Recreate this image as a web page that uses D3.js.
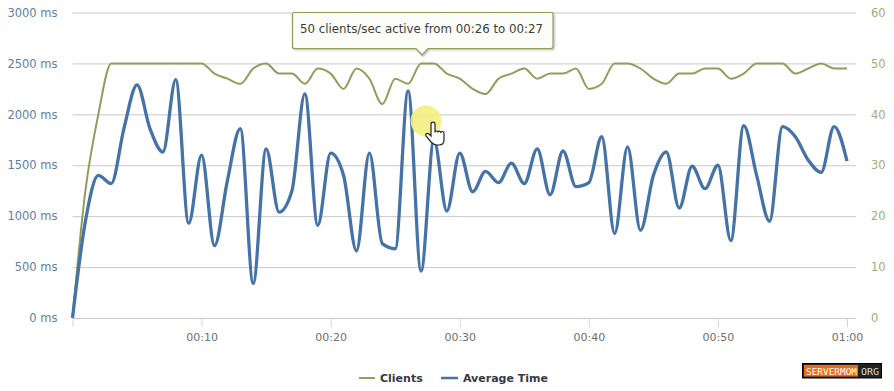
<!DOCTYPE html>
<html><head><meta charset="utf-8">
<script src="https://d3js.org/d3.v7.min.js"></script>
<style>
html,body{margin:0;padding:0;background:#fff;overflow:hidden}
text{font-family:"DejaVu Sans",sans-serif}
</style></head><body><svg id="c" width="894" height="391"></svg>
<script>
const seconds = d3.range(0, 61);
const clients = [0,25,40,50,50,50,50,50,50,50,50,48,47,46,49,50,48,48,46,49,48,45,49,47,42,47,46,50,50,48,47,45,44,47,48,49,47,48,48,49,45,46,50,50,49,47,46,48,48,49,49,47,48,50,50,50,48,49,50,49,49];
const averageTime = [0,950,1400,1320,1870,2290,1860,1630,2340,930,1600,710,1350,1860,340,1660,1040,1250,2200,910,1620,1400,660,1620,730,680,2230,460,1750,1050,1620,1240,1440,1330,1520,1320,1660,1210,1640,1290,1330,1780,830,1680,860,1400,1630,1080,1490,1270,1500,760,1890,1400,950,1880,1780,1550,1430,1880,1540];
const timeTicks = [10,20,30,40,50,60];
const timeLabels = ["00:10","00:20","00:30","00:40","00:50","01:00"];
const msTicks = [0,500,1000,1500,2000,2500,3000];
const clientTicks = [0,10,20,30,40,50,60];
const legendNames = ["Clients","Average Time"];
const tooltipText = "50 clients/sec active from 00:26 to 00:27";

const CLIENT="#8f9e5c", AVG="#4572a7", GRID="#c8c8c8";
const svg=d3.select("#c");
const L=72.5,R=847,T=12.5,B=318;
const x=d3.scaleLinear().domain([0,60]).range([L,R]);
const yMs=d3.scaleLinear().domain([0,3000]).range([B,T]);
const yC=d3.scaleLinear().domain([0,60]).range([B,T]);

// gridlines
svg.append("g").attr("transform",`translate(${L},0)`)
  .call(d3.axisLeft(yMs).tickValues(msTicks).tickSize(-(856-L)).tickFormat(""))
  .call(g=>{g.select(".domain").remove();g.selectAll("line").attr("stroke",GRID).attr("stroke-width",1)});

// left labels
svg.append("g").attr("transform",`translate(${L},0)`)
  .call(d3.axisLeft(yMs).tickValues(msTicks).tickSize(0).tickPadding(15).tickFormat(d=>d+" ms"))
  .call(g=>{g.select(".domain").remove();g.selectAll("line").remove();
    g.selectAll("text").attr("fill","#627da3").attr("font-size",11.5)});

// right labels
svg.append("g").attr("transform",`translate(871,0)`)
  .call(d3.axisRight(yC).tickValues(clientTicks).tickSize(0).tickPadding(0).tickFormat(d=>d))
  .call(g=>{g.select(".domain").remove();g.selectAll("line").remove();
    g.selectAll("text").attr("fill","#a3ac7a").attr("font-size",11.5)});

// x axis
svg.append("g").attr("transform",`translate(0,${B})`)
  .call(d3.axisBottom(x).tickValues([0,...timeTicks]).tickSize(9).tickPadding(6)
    .tickFormat(d=>{const i=timeTicks.indexOf(d);return i<0?"":timeLabels[i]}))
  .call(g=>{g.select(".domain").remove();
    g.selectAll("line").attr("stroke","#cfd6e2");
    g.selectAll("text").attr("fill","#6f6f6f").attr("font-size",11)});

const curve=d3.curveMonotoneX;
svg.append("path").datum(seconds).attr("fill","none").attr("stroke",CLIENT).attr("stroke-width",2)
  .attr("d",d3.line().x(d=>x(d)).y(d=>yC(clients[d])).curve(curve));
svg.append("path").datum(seconds).attr("fill","none").attr("stroke",AVG).attr("stroke-width",3.3)
  .attr("stroke-linejoin","round")
  .attr("d",d3.line().x(d=>x(d)).y(d=>yMs(averageTime[d])).curve(curve));

// legend
const legendX=[[359,375,380],[441,458,463]], legendColors=[CLIENT,AVG];
legendNames.forEach((n,i)=>{
  svg.append("line").attr("x1",legendX[i][0]).attr("x2",legendX[i][1]).attr("y1",378).attr("y2",378)
    .attr("stroke",legendColors[i]).attr("stroke-width",i?2.5:2);
  svg.append("text").attr("x",legendX[i][2]).attr("y",382).attr("fill","#333a45")
    .attr("font-size",11).attr("font-weight","bold").text(n);
});

// tooltip
const defs=svg.append("defs");
const f=defs.append("filter").attr("id","sh").attr("x","-5%").attr("y","-20%").attr("width","110%").attr("height","150%");
f.append("feDropShadow").attr("dx",1).attr("dy",1).attr("stdDeviation",1.2).attr("flood-color","#000").attr("flood-opacity",.3);
svg.append("path")
  .attr("d","M294.5 12.5H551a2 2 0 0 1 2 2V46.5a2 2 0 0 1-2 2H428L422 55L416 48.5H294.5a2 2 0 0 1-2-2V14.500a2 2 0 0 1 2-2Z")
  .attr("fill","#fcfcf8").attr("stroke",CLIENT).attr("stroke-width",1.2).attr("filter","url(#sh)");
svg.append("text").attr("x",300).attr("y",33).attr("fill","#3c3c3c").attr("font-size",11.8).text(tooltipText);

// cursor highlight & hand
svg.append("circle").attr("cx",426).attr("cy",121).attr("r",15.5).attr("fill","#f3ee7e").attr("opacity",.9);
svg.append("path")
  .attr("d","M431 124V136l-2-2c-2-1.500-4 0-3 2l5 6c2 2 3 3 6 3h2c3 0 5-2 5-5V133c0-2-3-2-3 0c0-2-3-3-3-.5c0-2-3-2-3 0V124c0-2.500-4-2.500-4 0Z")
  .attr("fill","#fff").attr("stroke","#222").attr("stroke-width",1.2);

// watermark
const wm=svg.append("g");
wm.append("rect").attr("x",802.5).attr("y",363.5).attr("width",79).attr("height",14.5).attr("fill","#222").attr("stroke","#000");
wm.append("rect").attr("x",804).attr("y",365).attr("width",54).attr("height",11.5).attr("fill","#f26a0c");
wm.append("text").attr("x",806).attr("y",374.5).attr("fill","#fff").attr("font-size",9.5).attr("textLength",51).attr("lengthAdjust","spacingAndGlyphs")
  .style("font-family","'DejaVu Sans Mono',monospace").text("SERVERMOM");
wm.append("text").attr("x",861).attr("y",374.5).attr("fill","#ddd").attr("font-size",9.5).attr("textLength",18).attr("lengthAdjust","spacingAndGlyphs")
  .style("font-family","'DejaVu Sans Mono',monospace").text("ORG");
</script></body></html>
